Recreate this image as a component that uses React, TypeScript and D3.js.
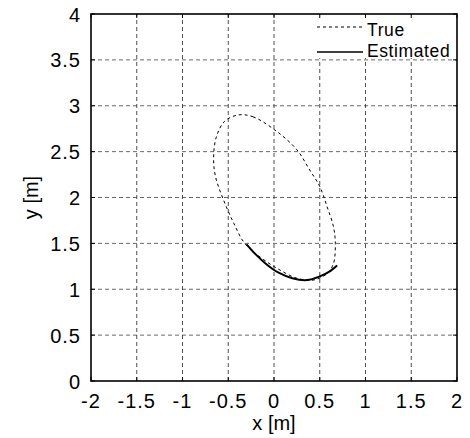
import * as d3 from 'd3'

// true trajectory (closed ellipse)
const trueX = [-0.39, -0.23, 0.03, 0.25, 0.39, 0.5, 0.58, 0.65, 0.67, 0.65, 0.58, 0.43, 0.25, 0.03, -0.15, -0.32, -0.44, -0.55, -0.64, -0.66, -0.63, -0.54]
const trueY = [2.9, 2.88, 2.72, 2.52, 2.3, 2.12, 1.9, 1.68, 1.5, 1.28, 1.17, 1.1, 1.12, 1.23, 1.35, 1.5, 1.72, 1.97, 2.23, 2.44, 2.66, 2.83]

// estimated trajectory
const estX = [-0.3, -0.2, -0.08, 0.05, 0.2, 0.36, 0.5, 0.6, 0.69]
const estY = [1.49, 1.38, 1.27, 1.18, 1.12, 1.1, 1.14, 1.19, 1.26]

const xTicks = [-2, -1.5, -1, -0.5, 0, 0.5, 1, 1.5, 2]
const yTicks = [0, 0.5, 1, 1.5, 2, 2.5, 3, 3.5, 4]
const legendLabels = ['True', 'Estimated']

const W = 470
const H = 438
const m = { left: 91, right: 13, top: 14, bottom: 57 }
const font = '"Liberation Sans", Arial, sans-serif'

export default function App() {
  const x = d3.scaleLinear().domain([-2, 2]).range([m.left, W - m.right])
  const y = d3.scaleLinear().domain([0, 4]).range([H - m.bottom, m.top])

  const truePts: [number, number][] = trueX.map((v, i) => [x(v), y(trueY[i])])
  const estPts: [number, number][] = estX.map((v, i) => [x(v), y(estY[i])])
  const closed = d3.line().curve(d3.curveCatmullRomClosed)(truePts) ?? ''
  const open = d3.line().curve(d3.curveCatmullRom)(estPts) ?? ''

  const x0 = m.left
  const x1 = W - m.right
  const y0 = H - m.bottom
  const y1 = m.top
  const lx = 317
  const lw = 46

  return (
    <svg width={W} height={H} style={{ position: 'absolute', left: 0, top: 0 }} fontFamily={font}>
      <rect x={0} y={0} width={W} height={H} fill="#fff" />
      {/* grid */}
      {xTicks.slice(1, -1).map((t) => (
        <line key={'gx' + t} x1={x(t)} x2={x(t)} y1={y0} y2={y1} stroke="#222" strokeWidth={0.8} strokeDasharray="4,3" />
      ))}
      {yTicks.slice(1, -1).map((t) => (
        <line key={'gy' + t} x1={x0} x2={x1} y1={y(t)} y2={y(t)} stroke="#444" strokeWidth={0.8} strokeDasharray="4,3" />
      ))}
      {/* data */}
      <path d={closed} fill="none" stroke="#000" strokeWidth={1} strokeDasharray="3,3" />
      <path d={open} fill="none" stroke="#000" strokeWidth={2} />
      {/* legend */}
      <rect x={lx - 3} y={y1 + 1} width={x1 - lx + 2} height={43} fill="#fff" />
      <line x1={lx} x2={lx + lw} y1={27} y2={27} stroke="#000" strokeWidth={1} strokeDasharray="3,3" />
      <line x1={lx} x2={lx + lw} y1={52} y2={52} stroke="#000" strokeWidth={1.5} />
      {legendLabels.map((l, i) => (
        <text key={l} x={lx + lw + 4} y={36 + i * 21} fontSize={17.5} letterSpacing={0.6}>{l}</text>
      ))}
      {/* ticks */}
      {xTicks.map((t) => (
        <g key={'tx' + t}>
          <line x1={x(t)} x2={x(t)} y1={y0} y2={y0 - 4} stroke="#000" />
          <line x1={x(t)} x2={x(t)} y1={y1} y2={y1 + 4} stroke="#000" />
          <text x={x(t)} y={408} fontSize={20} letterSpacing={1} textAnchor="middle">{t}</text>
        </g>
      ))}
      {yTicks.map((t) => (
        <g key={'ty' + t}>
          <line x1={x0} x2={x0 + 4} y1={y(t)} y2={y(t)} stroke="#000" />
          <line x1={x1} x2={x1 - 4} y1={y(t)} y2={y(t)} stroke="#000" />
          <text x={81} y={y(t) + 7.5} fontSize={20} letterSpacing={1} textAnchor="end">{t}</text>
        </g>
      ))}
      <rect x={x0} y={y1} width={x1 - x0} height={y0 - y1} fill="none" stroke="#000" strokeWidth={1.6} />
      <text x={(x0 + x1) / 2} y={430} fontSize={20} textAnchor="middle">x [m]</text>
      <text transform={`translate(38,${(y0 + y1) / 2}) rotate(-90)`} fontSize={20} textAnchor="middle">y [m]</text>
    </svg>
  )
}
